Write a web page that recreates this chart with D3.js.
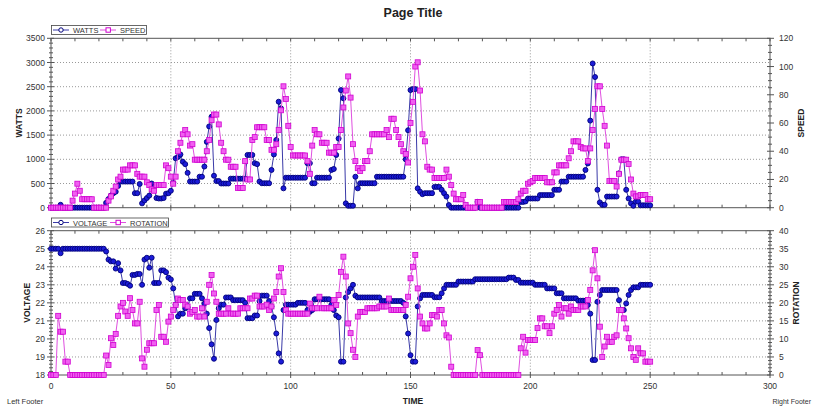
<!DOCTYPE html>
<html><head><meta charset="utf-8">
<script src="https://cdn.jsdelivr.net/npm/d3@7"></script>
<style>
body{margin:0;background:#fff}
svg{display:block}
text{font-family:"Liberation Sans",Arial,sans-serif}
</style>
</head><body><svg id="c" width="813" height="410"></svg>
<script>
// ---- data (one sample per second, time 0..250) ----
const timeStart = 0;
const watts = [
0,0,0,0,60,0,0,0,0,0,
0,0,0,0,0,0,0,0,0,0,
0,0,0,100,180,250,300,330,450,540,
540,540,540,540,540,300,300,490,90,150,
200,250,500,430,200,190,190,200,290,300,
350,520,1020,1050,1100,950,900,720,540,540,
540,540,640,640,850,1360,1680,1880,660,550,
550,500,500,500,500,600,600,600,600,600,
600,600,1090,1090,1090,920,900,540,505,505,
505,505,780,1100,1400,2190,2050,400,620,620,
620,620,620,620,620,620,620,920,920,505,
505,620,620,620,620,620,620,780,800,1090,
1430,2430,2260,90,40,40,40,640,400,505,
505,505,505,505,505,505,640,640,640,640,
640,640,640,640,640,640,640,640,1000,1600,
2430,2450,2450,400,330,280,300,300,300,300,
430,430,430,370,300,230,55,0,0,0,
0,0,0,0,0,0,0,0,120,0,
0,0,0,0,0,0,0,0,0,0,
0,0,0,0,0,0,120,120,130,190,
190,190,190,190,260,260,260,260,260,260,
370,370,370,540,540,540,640,640,640,640,
640,640,640,780,915,1800,2980,2700,370,110,
60,60,230,230,230,230,230,710,1000,1000,
370,190,90,40,125,125,50,50,50,50,50];
const speed = [
0,0,0,0,0,0,0,0,0,5,
10,17,12,6,6,6,6,6,0,0,
0,0,0,0,5,8,12,15,20,22,
27,27,27,30,30,30,24,22,22,22,
18,16,13,12,16,16,16,16,30,28,
22,17,22,40,46,52,55,52,44,45,
34,34,34,34,34,40,48,62,66,66,
59,46,40,34,34,29,29,29,14,14,
14,33,20,20,48,50,57,57,57,57,
48,48,41,41,45,55,69,86,77,58,
43,37,37,37,37,37,37,33,24,44,
55,52,52,46,46,46,39,39,39,43,
43,55,71,83,93,78,45,33,28,26,
28,33,33,40,52,52,52,52,52,52,
55,50,63,63,55,50,45,40,38,32,
60,75,100,103,83,52,47,29,27,27,
21,21,21,21,21,27,22,16,10,6,
6,6,9,2,0,0,0,0,4,4,
0,0,0,0,0,0,0,0,0,4,
4,4,4,4,4,6,10,12,12,17,
18,19,21,21,21,21,21,18,18,18,
25,25,30,30,30,30,35,40,47,47,
47,43,42,42,33,42,55,70,86,86,
70,58,44,19,19,19,15,24,34,34,
34,31,20,10,8,8,9,9,9,6,6];
const voltage = [
25,25,25,25,24.75,25,25,25,25,25,
25,25,25,25,25,25,25,25,25,25,
25,25,25,24.85,24.4,24.3,24.3,23.9,24.2,23.8,
23.1,23.1,23.05,22.95,23.55,23.55,23.6,23.6,23.0,24.4,
24.5,23.95,24.5,23.1,23.1,23.1,23.8,23.8,23.7,23.4,
23.3,22.8,21.9,21.25,21.4,21.4,21.7,21.75,22.25,22.25,
22.5,22.5,22.5,22.25,21.95,21.4,20.6,19.7,18.9,21.05,
21.7,21.9,21.9,22.3,22.3,22.3,22.15,22.15,22.15,22.15,
22.15,22.0,21.15,21.15,21.15,21.3,21.3,22.1,22.4,22.4,
22.4,22.1,21.8,21.2,20.3,19.2,18.74,21.6,21.9,21.9,
21.9,21.9,21.9,22.0,22.0,22.0,22.0,21.6,21.5,21.6,
22.2,22.2,22.2,22.2,22.2,22.2,22.2,21.9,21.6,21.3,
21.2,18.74,18.74,22.3,22.6,22.8,23.0,22.4,22.3,22.3,
22.3,22.3,22.3,22.3,22.3,22.3,22.3,22.3,22.1,22.1,
22.1,22.1,22.1,22.1,22.1,22.1,22.1,22.0,21.25,20.3,
19.1,18.74,18.74,21.8,22.25,22.44,22.44,22.44,22.44,22.44,
22.31,22.31,22.31,22.53,22.8,23.0,23.0,23.0,23.0,23.0,
23.18,23.18,23.18,23.18,23.18,23.18,23.18,23.31,23.31,23.31,
23.31,23.31,23.31,23.31,23.31,23.31,23.31,23.31,23.31,23.31,
23.31,23.4,23.4,23.4,23.27,23.27,23.12,23.12,23.12,23.12,
23.12,23.12,23.0,23.0,23.0,23.0,23.0,22.8,22.8,22.8,
22.8,22.53,22.53,22.53,22.25,22.25,22.25,22.25,22.25,22.25,
22.12,22.12,22.12,22.12,21.88,21.4,18.83,18.83,22.06,22.44,
22.71,22.71,22.71,22.71,22.71,22.71,22.71,22.15,21.6,21.6,
21.97,22.44,22.71,22.86,22.86,22.86,23.0,23.0,23.0,23.0,23.0];
const rotation = [
0,0,0,16.4,12,12,3.7,3.7,0,0,
0,0,0,0,0,0,0,0,0,0,
0,0,0,5.4,2.8,10.2,8.3,11.4,16.4,19,
20,17.6,16.4,21.3,18,14.3,14.3,20.3,4.6,2.3,
7,8.8,8.8,8.8,18,19.4,10.6,10.6,9.2,14.8,
16.2,18,19.4,21.2,20.8,20.8,19.5,19,17,17.5,
18,16.2,16.2,18.5,16.2,20.3,25,27.7,22.6,20.3,
17,17,17,17,18.5,17,17,17,17,18.5,
18.5,18.5,18.5,21.2,21.2,22,22,19,19,19,
19.5,18,19,21.2,23,27.3,29.6,23,18,17,
17,17,17,17,17,17,17,17,19.8,18.5,
18.5,18.5,21.7,18.5,18.5,18.5,18.5,18.5,20.8,19.4,
22.2,28.6,32.8,27.3,14.3,11.6,7,5,16.2,17.5,
17.5,17.5,18.5,18.5,18.5,18.5,18.5,19,19,19,
19,21.2,18,18,18,18,18,18,19.4,21.7,
26.8,30,33.3,24,16.2,14.3,12.9,12.9,14.3,16.6,
16.6,16.2,18,18,14.3,11,10.4,2.3,0,0,
0,0,0,0,0,0,0,0,6.9,5.5,
0,0,0,0,0,0,0,0,0,0,
0,0,0,0,0,0,7.4,10.6,6.2,9.7,
9.7,9.7,9.7,13,15.7,15.7,13.5,13.5,11.6,13.5,
17,18,19.4,16.2,18.5,18.5,17,19,18,18,
18,19,19,19,20.8,23.6,29,34.6,26.8,13.4,
5,7.9,10.6,9.2,9.2,10.6,11,18,18,15.7,
12.9,10.2,7.4,5,4.2,7.4,6,6,3.7,3.7,3.7];

const xTicks = [0,50,100,150,200,250,300];
const wattsTicks = [0,500,1000,1500,2000,2500,3000,3500];
const speedTicks = [0,20,40,60,80,100,120];
const voltTicks = [18,19,20,21,22,23,24,25,26];
const rotTicks = [0,5,10,15,20,25,30,35,40];

// ---- layout ----
const svg = d3.select('#c');
const X0 = 51, X1 = 770;
const x = d3.scaleLinear().domain([0,300]).range([X0,X1]);
const BLUE = {line:'#3a3aa8', fill:'#1c1cd8', stroke:'#00007a'};
const MAG = {line:'#e050e0', fill:'#f060f0', stroke:'#d000d0'};
const AX = '#555';

svg.append('text').attr('x',413).attr('y',17).attr('text-anchor','middle')
  .attr('font-size',12.5).attr('font-weight','bold').attr('fill','#222').text('Page Title');

function panel(cfg){
  const {t,b,yL,yR,lTicks,rTicks,lMinor,rMinor,lTitle,rTitle,lTitleX,rTitleX,sL,sR,legend,showX} = cfg;
  const g = svg.append('g');
  xTicks.slice(1,-1).forEach(v=>{
    g.append('line').attr('x1',x(v)).attr('x2',x(v)).attr('y1',t).attr('y2',b)
     .attr('stroke','#999').attr('stroke-dasharray','1,2').attr('stroke-width',1);
  });
  lTicks.slice(1,-1).forEach(v=>{
    g.append('line').attr('x1',X0).attr('x2',X1).attr('y1',yL(v)).attr('y2',yL(v))
     .attr('stroke','#999').attr('stroke-dasharray','1,2').attr('stroke-width',1);
  });
  g.append('rect').attr('x',X0).attr('y',t).attr('width',X1-X0).attr('height',b-t)
   .attr('fill','none').attr('stroke',AX).attr('stroke-width',1);
  d3.range(0,301,10).forEach(v=>{
    const major = v%50===0;
    g.append('line').attr('x1',x(v)).attr('x2',x(v)).attr('y1',b+(major?3:0)).attr('y2',b-3).attr('stroke',AX);
    g.append('line').attr('x1',x(v)).attr('x2',x(v)).attr('y1',t).attr('y2',t+3).attr('stroke',AX);
  });
  const lStep = lTicks[1]-lTicks[0];
  d3.range(lTicks[0], lTicks[lTicks.length-1]+1e-9, lStep/lMinor).forEach(v=>{
    const major = Math.abs(Math.round(v/lStep)*lStep - v) < 1e-6;
    g.append('line').attr('x1',X0-(major?4:2)).attr('x2',X0+(major?3:2)).attr('y1',yL(v)).attr('y2',yL(v)).attr('stroke',AX);
  });
  const rStep = rTicks[1]-rTicks[0];
  d3.range(rTicks[0], rTicks[rTicks.length-1]+1e-9, rStep/rMinor).forEach(v=>{
    const major = Math.abs(Math.round(v/rStep)*rStep - v) < 1e-6;
    g.append('line').attr('x1',X1-(major?3:2)).attr('x2',X1+(major?4:2)).attr('y1',yR(v)).attr('y2',yR(v)).attr('stroke',AX);
  });
  lTicks.forEach(v=>g.append('text').attr('x',X0-6).attr('y',yL(v)+3).attr('text-anchor','end')
    .attr('font-size',8.5).attr('fill','#333').text(v));
  rTicks.forEach(v=>g.append('text').attr('x',X1+9).attr('y',yR(v)+3).attr('text-anchor','start')
    .attr('font-size',8.5).attr('fill','#333').text(v));
  if(showX){
    xTicks.forEach(v=>g.append('text').attr('x',x(v)).attr('y',b+14).attr('text-anchor','middle')
      .attr('font-size',8.5).attr('fill','#333').text(v));
  }
  const cy = (t+b)/2;
  g.append('text').attr('transform',`translate(${lTitleX},${cy}) rotate(-90)`).attr('text-anchor','middle')
   .attr('font-size',8.5).attr('font-weight','bold').attr('fill','#222').text(lTitle);
  g.append('text').attr('transform',`translate(${rTitleX},${cy}) rotate(-90)`).attr('text-anchor','middle')
   .attr('font-size',8.5).attr('font-weight','bold').attr('fill','#222').text(rTitle);

  const line = (ys)=>d3.line().x((d,i)=>x(timeStart+i)).y(d=>ys(d));
  g.append('path').datum(sL).attr('d',line(yL)).attr('fill','none').attr('stroke',BLUE.line).attr('stroke-width',1);
  g.selectAll(null).data(sL).enter().append('circle')
   .attr('cx',(d,i)=>x(timeStart+i)).attr('cy',d=>yL(d)).attr('r',2.5)
   .attr('fill',BLUE.fill).attr('stroke',BLUE.stroke).attr('stroke-width',0.9);
  g.append('path').datum(sR).attr('d',line(yR)).attr('fill','none').attr('stroke',MAG.line).attr('stroke-width',1);
  g.selectAll(null).data(sR).enter().append('rect')
   .attr('x',(d,i)=>x(timeStart+i)-2.5).attr('y',d=>yR(d)-2.5).attr('width',5).attr('height',5)
   .attr('fill',MAG.fill).attr('stroke',MAG.stroke).attr('stroke-width',0.8);

  const lg = svg.append('g');
  const ly = legend.y;
  lg.append('rect').attr('x',legend.x).attr('y',ly-4.5).attr('width',legend.w).attr('height',9)
    .attr('fill','#fff').attr('stroke','#444').attr('stroke-width',0.8);
  legend.items.forEach(it=>{
    const c = it.blue?BLUE:MAG;
    lg.append('line').attr('x1',it.x).attr('x2',it.x+16).attr('y1',ly).attr('y2',ly).attr('stroke',c.line);
    if(it.blue) lg.append('circle').attr('cx',it.x+8).attr('cy',ly).attr('r',2.2).attr('fill','#fff').attr('stroke',c.stroke);
    else lg.append('rect').attr('x',it.x+6).attr('y',ly-2.2).attr('width',4.4).attr('height',4.4).attr('fill','#fff').attr('stroke',c.stroke);
    lg.append('text').attr('x',it.x+20).attr('y',ly+3).attr('font-size',7.5).attr('fill','#333').text(it.label);
  });
}

panel({t:38.3,b:207.7,
  yL:d3.scaleLinear([0,3500],[207.7,38.3]), yR:d3.scaleLinear([0,120],[207.7,38.3]),
  lTicks:wattsTicks, rTicks:speedTicks, lMinor:5, rMinor:4,
  lTitle:'WATTS', rTitle:'SPEED', lTitleX:22, rTitleX:804,
  sL:watts, sR:speed, showX:false,
  legend:{x:51.5,y:30,w:95,items:[{x:53,label:'WATTS',blue:true},{x:100,label:'SPEED',blue:false}]}
});
panel({t:230.7,b:375,
  yL:d3.scaleLinear([18,26],[375,230.7]), yR:d3.scaleLinear([0,40],[375,230.7]),
  lTicks:voltTicks, rTicks:rotTicks, lMinor:5, rMinor:5,
  lTitle:'VOLTAGE', rTitle:'ROTATION', lTitleX:30, rTitleX:799,
  sL:voltage, sR:rotation, showX:true,
  legend:{x:51.5,y:222.5,w:117,items:[{x:53,label:'VOLTAGE',blue:true},{x:110,label:'ROTATION',blue:false}]}
});

svg.append('text').attr('x',413).attr('y',404).attr('text-anchor','middle')
  .attr('font-size',8.5).attr('font-weight','bold').attr('fill','#222').text('TIME');
svg.append('text').attr('x',7).attr('y',404).attr('font-size',7.5).attr('fill','#333').text('Left Footer');
svg.append('text').attr('x',811).attr('y',404).attr('text-anchor','end').attr('font-size',7).attr('fill','#333').text('Right Footer');
</script></body></html>
